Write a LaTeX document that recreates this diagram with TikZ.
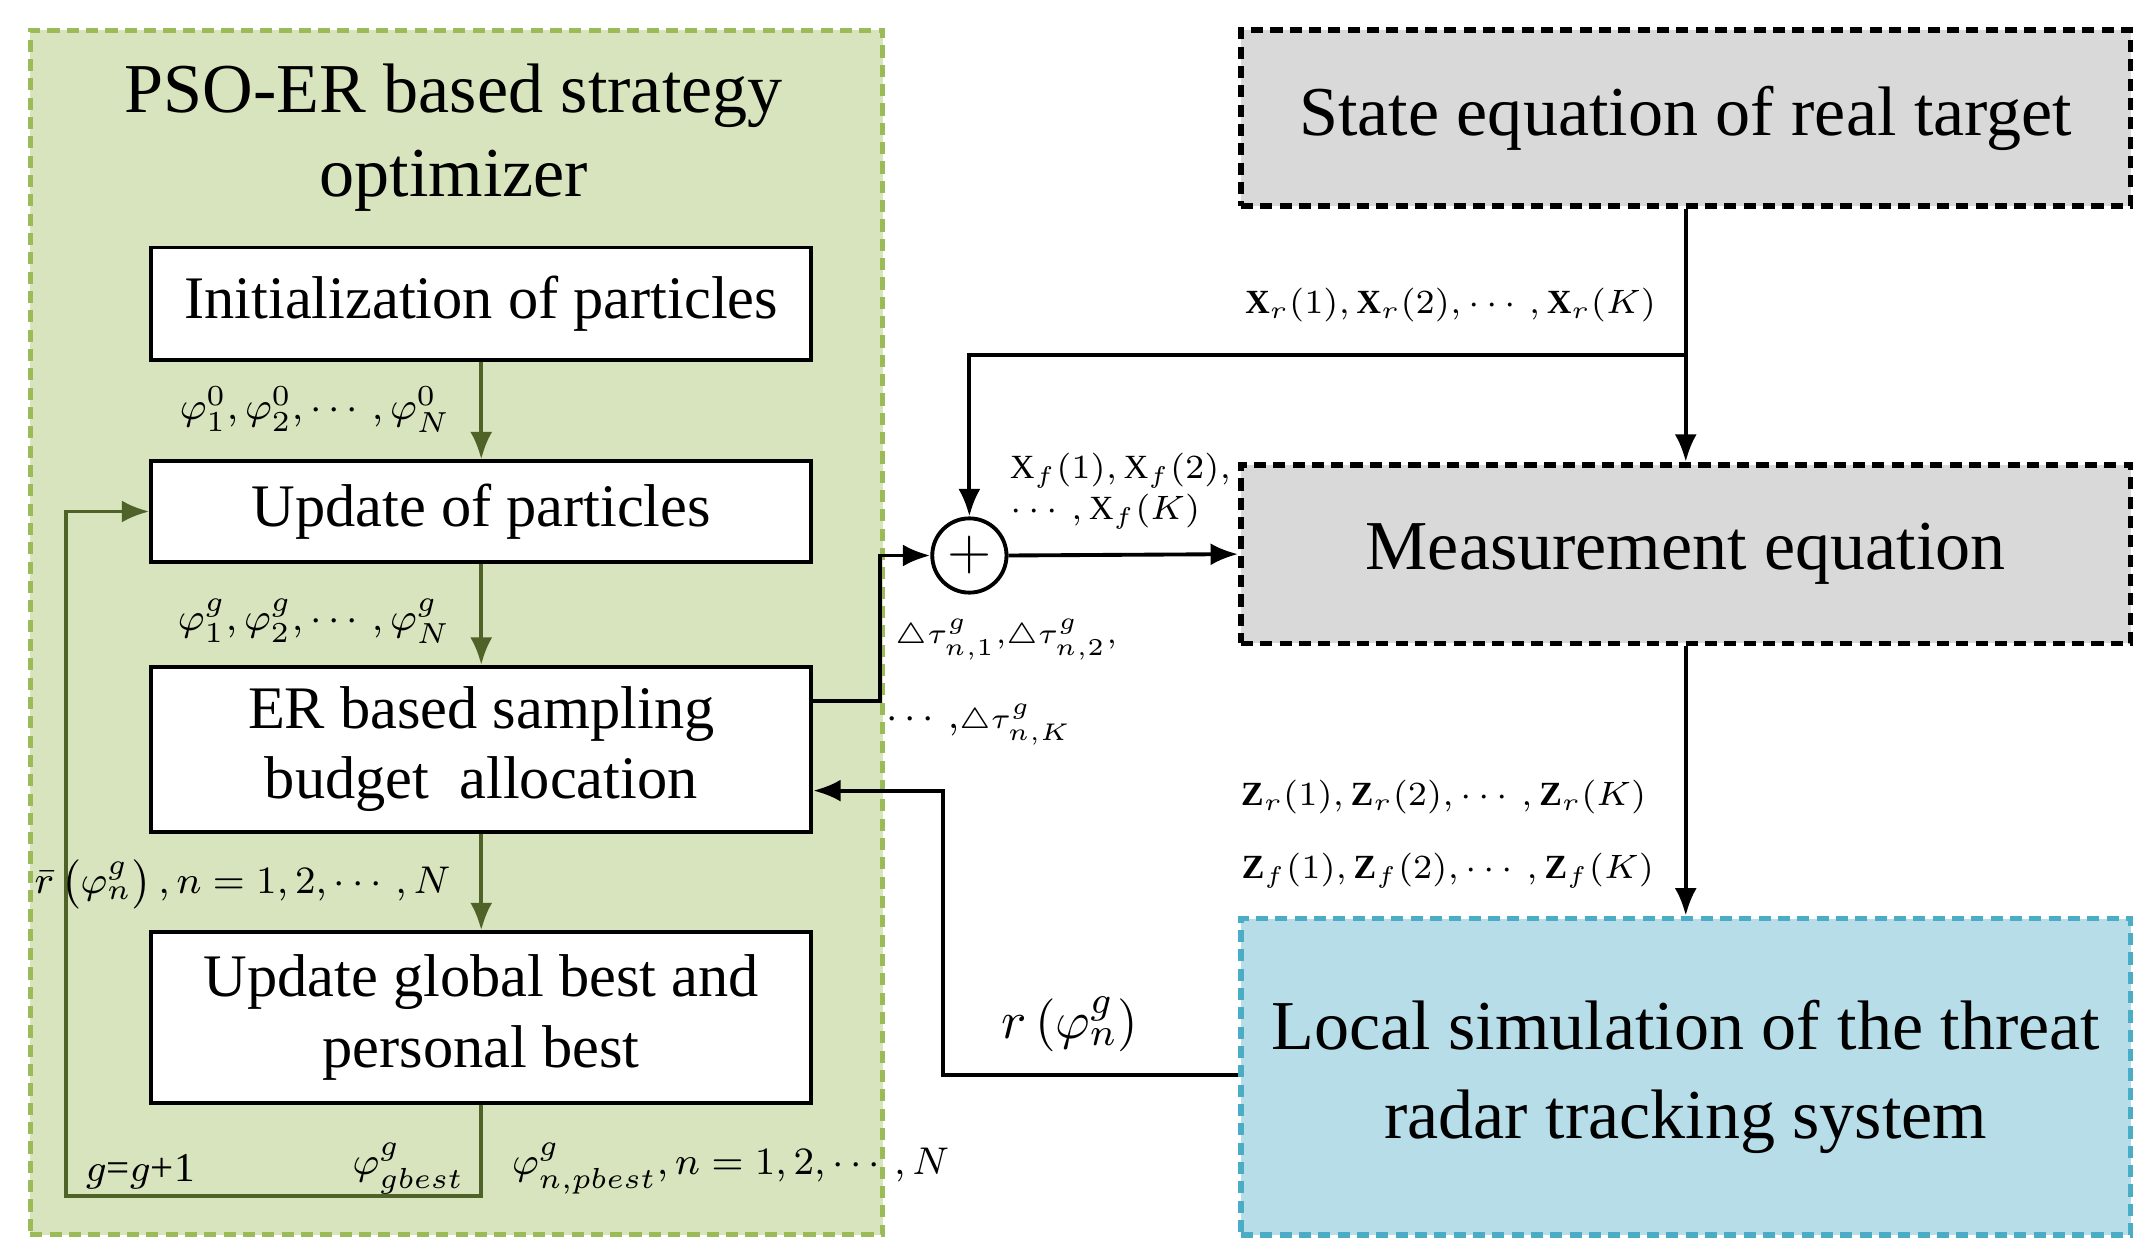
\documentclass[tikz,border=0pt]{standalone}
\usepackage{fontspec}
\usepackage{amsmath,amssymb}
\setmainfont{Liberation Serif}
\usetikzlibrary{arrows.meta}
\definecolor{gfill}{RGB}{215,228,189}
\definecolor{gline}{RGB}{155,187,89}
\definecolor{olive}{RGB}{79,98,40}
\definecolor{bfill}{RGB}{183,221,232}
\definecolor{bline}{RGB}{75,172,198}
\definecolor{gray1}{RGB}{217,217,217}
\begin{document}
\begin{tikzpicture}[x=0.1mm,y=-0.1mm,
  box/.style={draw=black,line width=0.8pt,fill=white,align=center,font=\fontsize{12.5}{14.5}\selectfont,inner sep=0},
  bigbox/.style={line width=1.2pt,dash pattern=on 2.5pt off 1.5pt,align=center,font=\fontsize{14.5}{18.5}\selectfont,inner sep=0},
  garr/.style={draw=olive,line width=0.8pt,-{Latex[length=2mm,width=1.6mm]}},
  arr/.style={draw=black,line width=0.8pt,-{Latex[length=2mm,width=1.6mm]}},
  lab/.style={font=\fontsize{8.5}{10}\selectfont},
  slab/.style={font=\fontsize{7}{8.5}\selectfont}]
\useasboundingbox (0,0) rectangle (1560,912);
\node[fill=gfill,draw=gline,line width=1pt,dash pattern=on 2.5pt off 1.5pt,inner sep=0,minimum width=62mm,minimum height=87.6mm] (green) at (332,460) {};
\node[font=\fontsize{14.5}{17.5}\selectfont,align=center] (title) at (330,100) {PSO-ER based strategy\\optimizer};
\node[box,minimum width=48mm,minimum height=8.2mm] (b1) at (350,221) {Initialization of particles};
\node[box,minimum width=48mm,minimum height=7.3mm] (b2) at (350,372) {Update of particles};
\node[box,minimum width=48mm,minimum height=12mm] (b3) at (350,545) {ER based sampling\\budget\ \ allocation};
\node[box,minimum width=48mm,minimum height=12.4mm] (b4) at (350,740) {Update global best and\\personal best};
\draw[garr] (b1.south) -- (b2.north);
\draw[garr] (b2.south) -- (b3.north);
\draw[garr] (b3.south) -- (b4.north);
\coordinate (c1) at (350,870);
\coordinate (c2) at (48,870);
\coordinate (c3) at (48,372);
\draw[garr] (b4.south) -- (c1) -- (c2) -- (c3) -- (b2.west);
\node[lab,anchor=east] (l1) at (340,298) {$\varphi_1^0,\varphi_2^0,\cdots,\varphi_N^0$};
\node[lab,anchor=east] (l2) at (340,452) {$\varphi_1^g,\varphi_2^g,\cdots,\varphi_N^g$};
\node[lab,anchor=east] (l3) at (340,643) {$\bar r\left(\varphi_n^g\right),n=1,2,\cdots,N$};
\node[lab] (l4) at (102,852) {$g$=$g$+1};
\node[lab] (l5) at (297,850) {$\varphi_{gbest}^g$};
\node[lab,anchor=west] (l6) at (360,850) {$\varphi_{n,pbest}^g,n=1,2,\cdots,N$};
\node[bigbox,draw=black,fill=gray1,minimum width=64.7mm,minimum height=12.8mm] (s) at (1226,86) {State equation of real target};
\node[bigbox,draw=black,fill=gray1,minimum width=64.7mm,minimum height=13mm] (m) at (1226,403) {Measurement equation};
\node[bigbox,draw=bline,fill=bfill,minimum width=64.7mm,minimum height=23mm] (loc) at (1226,783) {Local simulation of the threat\\radar tracking system};
\node[circle,draw=black,line width=0.8pt,minimum size=5.4mm,inner sep=0,font=\large] (sum) at (705,404) {$+$};
\draw[arr] (s.south) -- (m.north);
\coordinate (br) at (1226,258);
\coordinate (brl) at (705,258);
\draw[arr] (br) -- (brl) -- (sum.north);
\coordinate (o1) at (640,510);
\coordinate (o2) at (640,404);
\draw[arr] (b3.east |- o1) -- (o1) -- (o2) -- (sum.west);
\draw[arr] (sum.east) -- (m.west);
\draw[arr] (m.south) -- (loc.north);
\coordinate (f1) at (686,782);
\coordinate (f2) at (686,575);
\draw[arr] (loc.west |- f1) -- (f1) -- (f2) -- (b3.east |- f2);
\node[slab] (xr) at (1055,222) {$\mathbf{X}_r(1),\mathbf{X}_r(2),\cdots,\mathbf{X}_r(K)$};
\node[slab,align=left] (xf) at (815,357) {$\mathrm{X}_f(1),\mathrm{X}_f(2),$\\$\cdots,\mathrm{X}_f(K)$};
\node[lab] (t1) at (732,465) {$\scriptstyle\triangle\tau_{n,1}^g,\scriptstyle\triangle\tau_{n,2}^g,$};
\node[lab] (t2) at (712,527) {$\cdots,\scriptstyle\triangle\tau_{n,K}^g$};
\node[slab] (zr) at (1050,580) {$\mathbf{Z}_r(1),\mathbf{Z}_r(2),\cdots,\mathbf{Z}_r(K)$};
\node[slab] (zf) at (1053,633) {$\mathbf{Z}_f(1),\mathbf{Z}_f(2),\cdots,\mathbf{Z}_f(K)$};
\node[font=\fontsize{11}{13}\selectfont] (rr) at (778,745) {$r\left(\varphi_n^g\right)$};
\end{tikzpicture}
\end{document}
